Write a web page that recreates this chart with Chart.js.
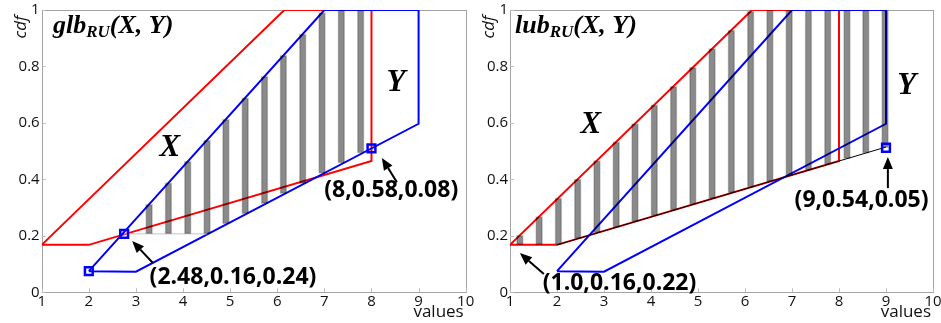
<!DOCTYPE html>
<html>
<head>
<meta charset="utf-8">
<script src="https://cdn.jsdelivr.net/npm/chart.js@4.4.0/dist/chart.umd.min.js"></script>
<style>
  html, body { margin: 0; padding: 0; background: #fff; }
  #wrap { position: relative; width: 941px; height: 323px; overflow: hidden; }
  canvas { position: absolute; top: 0; }
  #glb { left: 0; }
  #lub { left: 470px; }
</style>
</head>
<body>
<div id="wrap">
  <canvas id="glb" width="485" height="323"></canvas>
  <canvas id="lub" width="471" height="323"></canvas>
</div>
<script>
// Axis tick labels
const xTickLabels = ['1', '2', '3', '4', '5', '6', '7', '8', '9', '10'];
const yTickLabels = ['0', '0.2', '0.4', '0.6', '0.8', '1'];

// Outline of the cdf bounds of X (red), closed polygon
const xBoundValues = [1, 2, 8, 8, 6.15, 1];
const xBoundCdf    = [0.168, 0.168, 0.465, 1, 1, 0.168];

// Outline of the cdf bounds of Y (blue), closed polygon
const yBoundValues = [2, 3, 9, 9, 7, 2];
const yBoundCdf    = [0.075, 0.073, 0.597, 1, 1, 0.075];

// glb(X, Y): hatched band
const glbStripeX    = [3.28, 3.69, 4.10, 4.51, 4.91, 5.32, 5.73, 6.13, 6.54, 6.95, 7.36, 7.77];
const glbStripeLow  = [0.207, 0.207, 0.207, 0.207, 0.242, 0.278, 0.314, 0.349, 0.385, 0.421, 0.457, 0.493];
const glbStripeHigh = [0.312, 0.388, 0.464, 0.539, 0.613, 0.689, 0.765, 0.839, 0.915, 0.991, 1, 1];
const glbBaseX = [2.75, 4.51];
const glbBaseY = [0.207, 0.207];
const glbMarkX = [2, 2.75, 8];
const glbMarkY = [0.075, 0.207, 0.51];

// lub(X, Y): hatched band
const lubStripeX    = [1.21, 1.62, 2.03, 2.44, 2.85, 3.26, 3.66, 4.07, 4.48, 4.89,
                       5.30, 5.71, 6.12, 6.53, 6.94, 7.35, 7.76, 8.17, 8.57, 8.98];
const lubStripeLow  = [0.168, 0.168, 0.170, 0.190, 0.210, 0.230, 0.250, 0.271, 0.291, 0.311,
                       0.332, 0.352, 0.372, 0.392, 0.412, 0.432, 0.453, 0.473, 0.493, 0.512];
const lubStripeHigh = [0.202, 0.268, 0.334, 0.401, 0.467, 0.533, 0.598, 0.664, 0.730, 0.797,
                       0.863, 0.929, 0.995, 1, 1, 1, 1, 1, 1, 1];
const lubBaseX = [2, 9];
const lubBaseY = [0.168, 0.5145];
const lubMarkX = [9];
const lubMarkY = [0.512];

function pts(xs, ys) { return xs.map((v, i) => ({ x: v, y: ys[i] })); }

// Grey box around the plot with short inward ticks
const framePlugin = {
  id: 'frame',
  beforeDatasetsDraw(chart) {
    const { ctx, chartArea: a, scales } = chart;
    ctx.save();
    ctx.strokeStyle = '#a3a3a3';
    ctx.lineWidth = 1;
    ctx.strokeRect(Math.round(a.left) + 0.5, Math.round(a.top) + 0.5,
                   Math.round(a.right - a.left), Math.round(a.bottom - a.top));
    ctx.strokeStyle = '#bdbdbd';
    ctx.beginPath();
    scales.x.ticks.forEach(t => {
      const px = Math.round(scales.x.getPixelForValue(t.value)) + 0.5;
      ctx.moveTo(px, a.bottom); ctx.lineTo(px, a.bottom - 4);
    });
    scales.y.ticks.forEach(t => {
      const py = Math.round(scales.y.getPixelForValue(t.value)) + 0.5;
      ctx.moveTo(a.left, py); ctx.lineTo(a.left + 4, py);
    });
    ctx.stroke();
    ctx.restore();
  }
};

function drawArrow(ctx, x0, y0, x1, y1) {
  const ang = Math.atan2(y1 - y0, x1 - x0);
  const L = 12, W = 5;
  const bx = x1 - L * Math.cos(ang), by = y1 - L * Math.sin(ang);
  ctx.beginPath();
  ctx.moveTo(x0, y0); ctx.lineTo(bx, by);
  ctx.stroke();
  ctx.beginPath();
  ctx.moveTo(x1, y1);
  ctx.lineTo(bx + W * Math.sin(ang), by - W * Math.cos(ang));
  ctx.lineTo(bx - W * Math.sin(ang), by + W * Math.cos(ang));
  ctx.closePath();
  ctx.fill();
}

// Titles, curve names, value notes and axis names
const notesPlugin = {
  id: 'notes',
  afterDraw(chart, args, o) {
    const { ctx, chartArea: a, scales: { x, y } } = chart;
    ctx.save();
    ctx.fillStyle = '#000';
    ctx.strokeStyle = '#000';

    // title with subscript
    let tx = x.getPixelForValue(o.title.x);
    const ty = y.getPixelForValue(o.title.y);
    ctx.textBaseline = 'alphabetic';
    ctx.textAlign = 'left';
    ctx.font = 'italic bold 26px "Liberation Serif"';
    ctx.fillText(o.title.main, tx, ty);
    tx += ctx.measureText(o.title.main).width;
    ctx.font = 'italic bold 17px "Liberation Serif"';
    ctx.fillText(o.title.sub, tx, ty + 4);
    tx += ctx.measureText(o.title.sub).width;
    ctx.font = 'italic bold 26px "Liberation Serif"';
    ctx.fillText(o.title.rest, tx, ty);

    // curve names
    ctx.textAlign = 'center';
    ctx.textBaseline = 'middle';
    ctx.font = 'italic bold 31px "Liberation Serif"';
    o.names.forEach(n => ctx.fillText(n.text, x.getPixelForValue(n.x), y.getPixelForValue(n.y)));

    // arrows and their notes
    ctx.lineWidth = 2;
    o.arrows.forEach(r => drawArrow(ctx,
      x.getPixelForValue(r.x0), y.getPixelForValue(r.y0),
      x.getPixelForValue(r.x1), y.getPixelForValue(r.y1)));
    ctx.font = 'bold 23px "Open Sans"';
    o.labels.forEach(l => ctx.fillText(l.text, x.getPixelForValue(l.x), y.getPixelForValue(l.y)));

    // axis names
    ctx.font = '17px "Open Sans"';
    ctx.textAlign = 'right';
    ctx.textBaseline = 'alphabetic';
    ctx.fillStyle = '#111';
    ctx.fillText('values', a.right - 2, 317);
    ctx.save();
    ctx.translate(o.cdfX, 27);
    ctx.rotate(-Math.PI / 2);
    ctx.textAlign = 'center';
    ctx.textBaseline = 'middle';
    ctx.font = 'italic 17px "Open Sans"';
    ctx.fillText('cdf', 0, 0);
    ctx.restore();
    ctx.restore();
  }
};

function makeChart(id, cfg) {
  const tickFont = { family: 'Open Sans', size: 15 };
  return new Chart(document.getElementById(id), {
    type: 'bar',
    data: {
      datasets: [
        { type: 'line', label: 'marks', data: pts(cfg.markX, cfg.markY), showLine: false,
          pointStyle: 'rect', pointRadius: 5.5, pointBorderWidth: 2.5,
          pointBorderColor: '#0000ff', pointBackgroundColor: 'rgba(0,0,0,0)', order: 0 },
        { type: 'bar', label: 'band',
          data: cfg.stripeX.map((v, i) => ({ x: v, y: [cfg.stripeLow[i], cfg.stripeHigh[i]] })),
          backgroundColor: 'rgba(0,0,0,0.46)', borderColor: 'rgba(0,0,0,0.22)',
          borderWidth: 1, borderSkipped: false, barThickness: 7, order: 1 },
        { type: 'line', label: 'base', data: pts(cfg.baseX, cfg.baseY),
          borderColor: cfg.baseColor, borderWidth: 1, pointRadius: 0, order: 2 },
        { type: 'line', label: 'Y', data: pts(yBoundValues, yBoundCdf),
          borderColor: '#0000ff', borderWidth: 2, pointRadius: 0, order: 3 },
        { type: 'line', label: 'X', data: pts(xBoundValues, xBoundCdf),
          borderColor: '#ff0000', borderWidth: 2, pointRadius: 0, order: 4 }
      ]
    },
    options: {
      responsive: false,
      animation: false,
      events: [],
      layout: { padding: { top: 10, right: cfg.padRight, left: 0, bottom: 0 } },
      plugins: {
        legend: { display: false },
        tooltip: { enabled: false },
        notes: cfg.notes
      },
      scales: {
        x: {
          type: 'linear', min: 1, max: 10, offset: false,
          grid: { display: false, drawTicks: false, offset: false },
          border: { display: false },
          afterBuildTicks: s => { s.ticks = xTickLabels.map(v => ({ value: +v })); },
          ticks: { callback: (v, i) => xTickLabels[i], padding: 0, color: '#111',
                   font: tickFont, maxRotation: 0, autoSkip: false },
          afterFit: s => { s.height = 30.7; s.paddingLeft = 0; s.paddingRight = 0; }
        },
        y: {
          type: 'linear', min: 0, max: 1,
          grid: { display: false, drawTicks: false },
          border: { display: false },
          afterBuildTicks: s => { s.ticks = yTickLabels.map(v => ({ value: +v })); },
          ticks: { callback: (v, i) => yTickLabels[i], padding: 2, color: '#111',
                   font: tickFont, autoSkip: false },
          afterFit: s => { s.width = cfg.yWidth; s.paddingTop = 0; s.paddingBottom = 0; }
        }
      }
    },
    plugins: [framePlugin, notesPlugin]
  });
}

makeChart('glb', {
  stripeX: glbStripeX, stripeLow: glbStripeLow, stripeHigh: glbStripeHigh,
  baseX: glbBaseX, baseY: glbBaseY, baseColor: '#c4c4c4',
  markX: glbMarkX, markY: glbMarkY,
  yWidth: 41.7, padRight: 19.3,
  notes: {
    cdfX: 21,
    title: { main: 'glb', sub: 'RU', rest: '(X, Y)', x: 1.24, y: 0.918 },
    names: [{ text: 'X', x: 3.72, y: 0.511 }, { text: 'Y', x: 8.52, y: 0.741 }],
    arrows: [{ x0: 3.36, y0: 0.104, x1: 2.92, y1: 0.182 },
             { x0: 8.54, y0: 0.39, x1: 8.22, y1: 0.476 }],
    labels: [{ text: '(2.48,0.16,0.24)', x: 5.06, y: 0.054 },
             { text: '(8,0.58,0.08)', x: 8.42, y: 0.362 }]
  }
});

makeChart('lub', {
  stripeX: lubStripeX, stripeLow: lubStripeLow, stripeHigh: lubStripeHigh,
  baseX: lubBaseX, baseY: lubBaseY, baseColor: '#000000',
  markX: lubMarkX, markY: lubMarkY,
  yWidth: 40, padRight: 7.7,
  notes: {
    cdfX: 19,
    title: { main: 'lub', sub: 'RU', rest: '(X, Y)', x: 1.106, y: 0.918 },
    names: [{ text: 'X', x: 2.72, y: 0.593 }, { text: 'Y', x: 9.44, y: 0.732 }],
    arrows: [{ x0: 1.72, y0: 0.065, x1: 1.21, y1: 0.139 },
             { x0: 9.04, y0: 0.369, x1: 9.04, y1: 0.479 }],
    labels: [{ text: '(1.0,0.16,0.22)', x: 3.33, y: 0.033 },
             { text: '(9,0.54,0.05)', x: 8.48, y: 0.327 }]
  }
});
</script>
</body>
</html>
